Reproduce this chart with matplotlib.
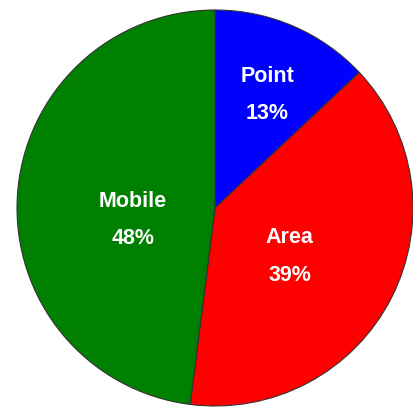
import numpy as np
import matplotlib
matplotlib.use("Agg")
import matplotlib.pyplot as plt

labels = ["Point", "Area", "Mobile"]
shares = [13, 39, 48]
colors = ["#0000ff", "#ff0000", "#008000"]
# label placement: fraction of radius and angle nudge (deg) from wedge middle
label_radius = [0.63, 0.45, 0.42]
label_shift = [-1.5, -6, 12]

W, H = 413, 407
fig = plt.figure(figsize=(W / 100, H / 100), dpi=100)
cx, cy, r = 215, 208, 198
ax = fig.add_axes([(cx - r) / W, (H - cy - r) / H, 2 * r / W, 2 * r / H])

wedges, _ = ax.pie(shares, colors=colors, startangle=90, counterclock=False,
                   wedgeprops=dict(edgecolor="#333333", linewidth=0.8))

for w, name, val, lr, sh in zip(wedges, labels, shares, label_radius, label_shift):
    mid = np.deg2rad((w.theta1 + w.theta2) / 2 + sh)
    x, y = lr * np.cos(mid), lr * np.sin(mid)
    ax.text(x, y + 0.095, name, ha="center", va="center", color="white",
            fontsize=15.5, fontweight="bold", family="Liberation Sans")
    ax.text(x, y - 0.095, f"{val}%", ha="center", va="center", color="white",
            fontsize=15.5, fontweight="bold", family="Liberation Sans")

ax.set_xlim(-1, 1)
ax.set_ylim(-1, 1)
ax.axis("off")

plt.savefig("out.png", dpi=100)
plt.close()
